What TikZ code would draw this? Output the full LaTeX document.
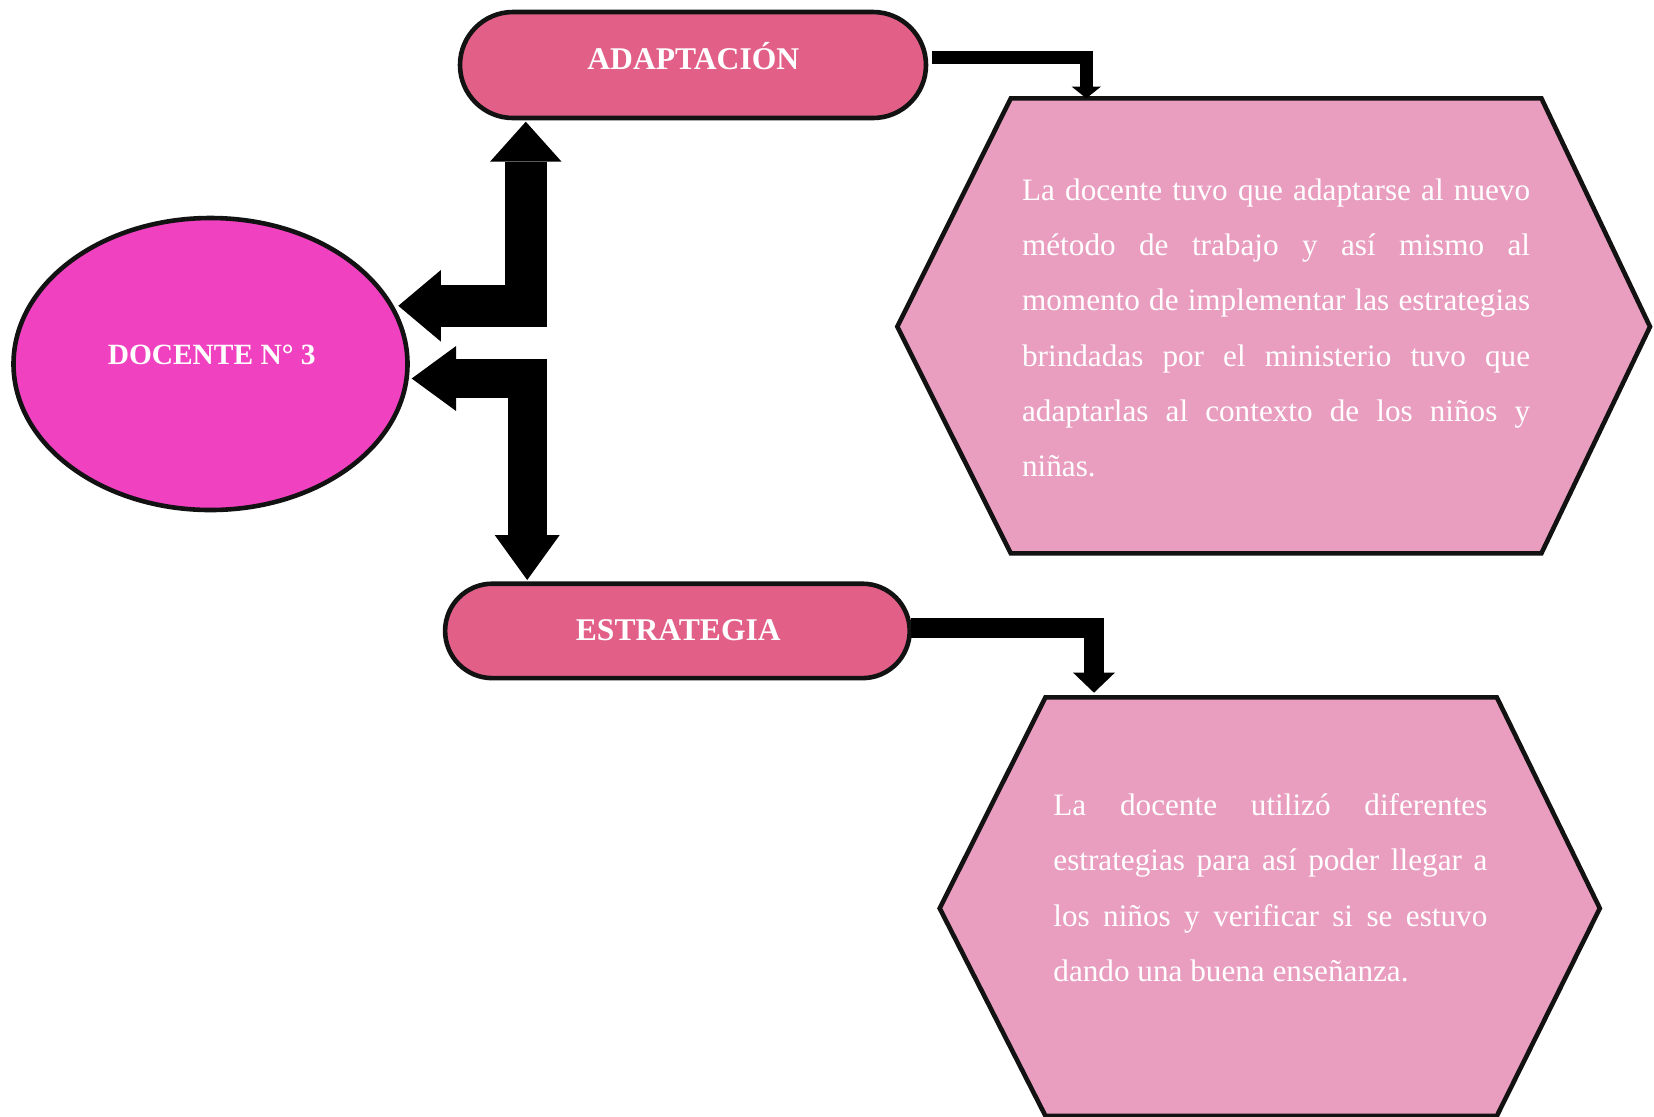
\documentclass[tikz,border=0pt]{standalone}
\usepackage{fontspec}
\setmainfont{Liberation Serif}
\usetikzlibrary{shapes.misc,shapes.geometric,arrows.meta}
\definecolor{elfill}{HTML}{F041C0}
\definecolor{stfill}{HTML}{E26088}
\definecolor{hxfill}{HTML}{E99EC0}
\definecolor{edgec}{HTML}{121212}
\tikzset{
  stadium/.style={rounded rectangle, draw=edgec, line width=2.3pt, fill=stfill, inner sep=0pt},
  oval/.style={ellipse, draw=edgec, line width=2.3pt, fill=elfill, inner sep=0pt},
  hexa/.style={draw=edgec, line width=2.3pt, fill=hxfill, line join=miter},
  title/.style={text=white, font=\fontsize{15.8pt}{18pt}\selectfont\bfseries, inner sep=0pt, anchor=base},
  body/.style={text=white, inner sep=0pt, anchor=base west},
  blockarrow/.style={draw=black, line join=miter},
}
\newcommand{\jl}[1]{\makebox[\linewidth][s]{#1}}
\begin{document}
\begin{tikzpicture}[x=0.5pt,y=-0.5pt]
\useasboundingbox (0,0) rectangle (1654,1116);

% main shapes
\node[oval, minimum width=197pt, minimum height=146pt] (doc) at (210.5,364) {};
\node[stadium, minimum width=233pt, minimum height=53pt] (adapt) at (693,65) {};
\node[stadium, minimum width=232.3pt, minimum height=47.2pt] (estr) at (677.4,630.9) {};

\node[title, font=\fontsize{14.7pt}{18pt}\selectfont\bfseries] (docl) at (211.7,364) {DOCENTE N° 3};
\node[title] (adaptl) at (693.3,69.3) {ADAPTACIÓN};
\node[title] (estrl) at (678.3,640) {ESTRATEGIA};

% hexagons
\draw[hexa] (1010.8,98.3) -- (1541.4,98.3) -- (1650,326.7) -- (1541.4,553.3)
  -- (1010.8,553.3) -- (897.3,326.7) -- cycle;
\draw[hexa] (1045.5,697.3) -- (1496.8,697.3) -- (1599.8,908.3) -- (1496.8,1116)
  -- (1045.5,1116) -- (939.7,908.3) -- cycle;

\node[body] (txa) at (1021.7,200.3) {\parbox[t]{254pt}{\fontsize{15.6pt}{27.65pt}\selectfont
\jl{La docente tuvo que adaptarse al nuevo}\\
\jl{método de trabajo y así mismo al}\\
\jl{momento de implementar las estrategias}\\
\jl{brindadas por el ministerio tuvo que}\\
\jl{adaptarlas al contexto de los niños y}\\
niñas.}};

\node[body] (txb) at (1053,815) {\parbox[t]{217pt}{\fontsize{15.6pt}{27.75pt}\selectfont
\jl{La docente utilizó diferentes}\\
\jl{estrategias para así poder llegar a}\\
\jl{los niños y verificar si se estuvo}\\
dando una buena enseñanza.}};

% connector end points
\coordinate (u1) at (525.8,121.7);
\coordinate (u2) at (398.3,305.8);
\coordinate (l1) at (411.7,378.5);
\coordinate (l2) at (527.2,580);
\coordinate (a1) at (932,57.3);
\coordinate (a2) at (1086.3,98.3);
\coordinate (e1) at (911,627.8);
\coordinate (e2) at (1094,692.7);

% block arrows
\draw[blockarrow, line width=20.8pt,
  {Triangle[length=20pt,width=35.8pt,line width=0pt]}-{Triangle[length=21.3pt,width=35.8pt,line width=0pt]}]
  (u1) |- (u2);
\draw[blockarrow, line width=19.3pt,
  {Triangle[length=22.2pt,width=32.5pt,line width=0pt]}-{Triangle[length=22.5pt,width=32.5pt,line width=0pt]}]
  (l1) -| (l2);
\draw[blockarrow, line width=6.6pt,
  -{Triangle[length=5.85pt,width=14.65pt,line width=0pt]}]
  (a1) -| (a2);
\draw[blockarrow, line width=9.75pt,
  -{Triangle[length=10pt,width=20.85pt,line width=0pt]}]
  (e1) -| (e2);
\end{tikzpicture}
\end{document}
